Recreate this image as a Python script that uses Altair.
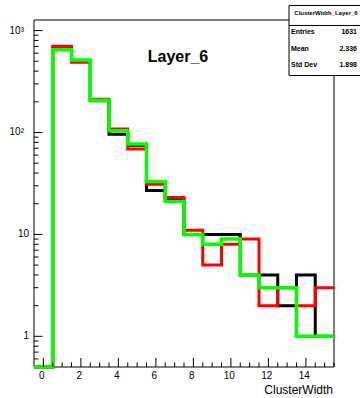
import altair as alt
import pandas as pd

# Cluster-width histograms for Layer_6 (bins centred on 0..15, unit width)
bin_centers = list(range(16))
black_counts = [0, 665, 500, 205, 96, 75, 27, 22, 10, 10, 10, 4, 4, 2, 4, 1]
red_counts = [0, 700, 490, 212, 108, 69, 31, 23, 11, 5, 8, 9, 2, 3, 2, 3]
green_counts = [0, 650, 515, 207, 104, 77, 33, 21, 10, 8, 9, 4, 3, 3, 1, 1]

series_names = ["black", "red", "green"]
series_colors = ["#000000", "#ff0000", "#00ff00"]
series_widths = [3, 3, 3.5]

# Axis ticks and labels
x_major = [0, 2, 4, 6, 8, 10, 12, 14]
x_minor = [v / 2 for v in range(0, 32)]
x_minor = [v for v in x_minor if v not in x_major]
y_major_plain = [1, 10]
y_major_plain_labels = ["1", "10"]
y_major_exp = [100, 1000]
y_major_exp_labels = ["10\u00b2", "10\u00b3"]
y_minor = [0.6, 0.7, 0.8, 0.9] + [m * d for d in (1, 10, 100) for m in range(2, 10)]

# Statistics box text
stats_title = "ClusterWidth_Layer_6"
stat_names = ["Entries", "Mean", "Std Dev"]
stat_values = ["1631", "2.336", "1.898"]

title_text = "Layer_6"
x_title = "ClusterWidth"

X_LO, X_HI = -0.5, 15.5
Y_LO, Y_HI = 0.5, 1270
W, H = 300, 347
FONT = "Liberation Sans"

xs = alt.Scale(domain=[X_LO, X_HI], nice=False, zero=False)
ys = alt.Scale(type="log", domain=[Y_LO, Y_HI], nice=False)

# Step outlines: one point per left bin edge plus the closing right edge
rows = []
for name, counts in zip(series_names, [black_counts, red_counts, green_counts]):
    edges = [c - 0.5 for c in bin_centers] + [bin_centers[-1] + 0.5]
    vals = counts + [counts[-1]]
    for e, v in zip(edges, vals):
        rows.append({"series": name, "edge": e, "count": v})
hist = pd.DataFrame(rows)

layers = []

# Frame
frame = alt.Chart(pd.DataFrame({"k": [0]})).mark_rect(
    fill=None, stroke="black", strokeWidth=1
).encode(x=alt.value(0), x2=alt.value(W), y=alt.value(0), y2=alt.value(H))
layers.append(frame)

# Histogram lines (black, then red, then green on top)
for name, color, width in zip(series_names, series_colors, series_widths):
    line = alt.Chart(hist).transform_filter(
        alt.datum.series == name
    ).transform_calculate(
        shown=f"max(datum.count, {Y_LO})"
    ).mark_line(
        interpolate="step-after", color=color, strokeWidth=width, clip=False
    ).encode(
        x=alt.X("edge:Q", scale=xs, axis=None),
        y=alt.Y("shown:Q", scale=ys, axis=None),
    )
    layers.append(line)

# X ticks (drawn inward from the bottom)
xmaj = alt.Chart(pd.DataFrame({"v": x_major})).mark_rule(color="black", strokeWidth=1).encode(
    x=alt.X("v:Q", scale=xs, axis=None), y=alt.value(H), y2=alt.value(H - 9)
)
xmin = alt.Chart(pd.DataFrame({"v": x_minor})).mark_rule(color="black", strokeWidth=1).encode(
    x=alt.X("v:Q", scale=xs, axis=None), y=alt.value(H), y2=alt.value(H - 4.5)
)
# Y ticks (drawn inward from the left)
ymaj = alt.Chart(pd.DataFrame({"v": y_major_plain + y_major_exp})).mark_rule(
    color="black", strokeWidth=1
).encode(y=alt.Y("v:Q", scale=ys, axis=None), x=alt.value(0), x2=alt.value(8.5))
ymin = alt.Chart(pd.DataFrame({"v": y_minor})).mark_rule(color="black", strokeWidth=1).encode(
    y=alt.Y("v:Q", scale=ys, axis=None), x=alt.value(0), x2=alt.value(4.5)
)
layers += [xmaj, xmin, ymaj, ymin]

# Tick labels
xlab = alt.Chart(pd.DataFrame({"v": x_major, "t": [str(v) for v in x_major]})).mark_text(
    font=FONT, fontSize=10, align="center", baseline="middle", dx=-1.5, color="black"
).encode(x=alt.X("v:Q", scale=xs, axis=None), y=alt.value(H + 9), text="t:N")
ylab_plain = alt.Chart(pd.DataFrame({"v": y_major_plain, "t": y_major_plain_labels})).mark_text(
    font=FONT, fontSize=10, align="right", baseline="middle", color="black"
).encode(y=alt.Y("v:Q", scale=ys, axis=None), x=alt.value(-5), text="t:N")
ylab_exp = alt.Chart(pd.DataFrame({"v": y_major_exp, "t": y_major_exp_labels})).mark_text(
    font=FONT, fontSize=10, align="right", baseline="middle", color="black"
).encode(y=alt.Y("v:Q", scale=ys, axis=None), x=alt.value(-10), text="t:N")
layers += [xlab, ylab_plain, ylab_exp]

# Axis title and plot title
xt = alt.Chart(pd.DataFrame({"t": [x_title]})).mark_text(
    font=FONT, fontSize=12, align="right", baseline="middle", color="black"
).encode(x=alt.value(W - 1), y=alt.value(H + 23), text="t:N")
tt = alt.Chart(pd.DataFrame({"t": [title_text]})).mark_text(
    font=FONT, fontSize=16, fontWeight="bold", align="center", baseline="middle", color="black"
).encode(x=alt.value(144), y=alt.value(37), text="t:N")
layers += [xt, tt]

# Statistics box
box = alt.Chart(pd.DataFrame({"k": [0]})).mark_rect(
    fill="white", stroke="black", strokeWidth=1
).encode(x=alt.value(255), x2=alt.value(332), y=alt.value(-14.5), y2=alt.value(55.5))
sep = alt.Chart(pd.DataFrame({"k": [0]})).mark_rule(color="black", strokeWidth=1).encode(
    x=alt.value(255), x2=alt.value(332), y=alt.value(5.5)
)
btitle = alt.Chart(pd.DataFrame({"t": [stats_title]})).mark_text(
    font=FONT, fontSize=6, fontWeight="bold", align="center", baseline="middle", color="black"
).encode(x=alt.value(292), y=alt.value(-7), text="t:N")
stats = pd.DataFrame({"n": stat_names, "v": stat_values, "row": [0, 1, 2]})
srow = alt.Scale(domain=[0, 2], range=[12, 45.3])
snames = alt.Chart(stats).mark_text(
    font=FONT, fontSize=7, fontWeight="bold", align="left", baseline="middle", color="black"
).encode(x=alt.value(257), y=alt.Y("row:Q", scale=srow, axis=None), text="n:N")
svals = alt.Chart(stats).mark_text(
    font=FONT, fontSize=7, fontWeight="bold", align="right", baseline="middle", color="black"
).encode(x=alt.value(323), y=alt.Y("row:Q", scale=srow, axis=None), text="v:N")
layers += [box, sep, btitle, snames, svals]

chart = alt.layer(*layers).resolve_scale(y="independent").properties(
    width=W, height=H,
    autosize=alt.AutoSizeParams(type="none"),
    padding={"left": 34, "top": 20, "right": 26, "bottom": 31},
    background="white",
).configure_view(stroke=None)

chart.save("out.html", embed_options={"renderer": "svg", "actions": False})
